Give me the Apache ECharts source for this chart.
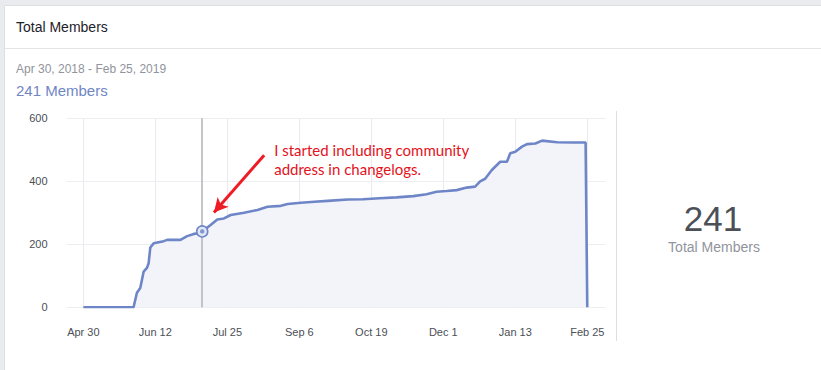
<!DOCTYPE html>
<html>
<head>
<meta charset="utf-8">
<script src="https://cdn.jsdelivr.net/npm/echarts@6/dist/echarts.min.js"></script>
<style>
html,body{margin:0;padding:0;background:#e9ebee;}
#chart{width:821px;height:370px;}
</style>
</head>
<body>
<div id="chart"></div>
<script>
// ---- data ----
const dates = [
  '2018-04-30','2018-05-30','2018-06-01','2018-06-03','2018-06-05','2018-06-07','2018-06-08',
  '2018-06-09','2018-06-11','2018-06-17','2018-06-19','2018-06-27','2018-07-01','2018-07-05',
  '2018-07-09','2018-07-10','2018-07-15','2018-07-19','2018-07-23','2018-07-27','2018-08-04',
  '2018-08-12','2018-08-18','2018-08-26','2018-08-30','2018-09-07','2018-09-15','2018-09-23',
  '2018-10-05','2018-10-14','2018-10-24','2018-11-03','2018-11-13','2018-11-21','2018-11-27',
  '2018-12-03','2018-12-09','2018-12-15','2018-12-20','2018-12-23','2018-12-26','2018-12-30',
  '2019-01-04','2019-01-08','2019-01-10','2019-01-13','2019-01-17','2019-01-20','2019-01-25',
  '2019-01-29','2019-02-07','2019-02-17','2019-02-24','2019-02-25'
];
const members = [
  0,0,46,61,113,125,140,
  190,203,210,214,214,226,233,
  236,241,261,279,282,293,300,
  309,319,322,328,332,335,338,
  342,343,346,349,353,359,367,
  369,372,380,383,400,408,436,
  462,462,489,494,510,518,520,
  529,524,523,523,0
];
const tickDates = ['2018-04-30','2018-06-12','2018-07-25','2018-09-06','2018-10-19','2018-12-01','2019-01-13','2019-02-25'];
const tickLabels = ['Apr 30','Jun 12','Jul 25','Sep 6','Oct 19','Dec 1','Jan 13','Feb 25'];
const axisRange = ['2018-04-20','2019-03-08'];
const yRange = [0, 600, 200];
const highlightDate = '2018-07-10';
const arrowFrom = ['2018-08-16', 483];
const arrowTo = ['2018-07-17', 301];
const noteAt = ['2018-08-22', 470];
const noteText = 'I started including community\naddress in changelogs.';
const headerTitle = 'Total Members';
const rangeText = 'Apr 30, 2018 - Feb 25, 2019';

// ---- build ----
// dates -> day number since the first date (value axis)
const base = Date.UTC(2018, 3, 30);
const D = s => {
  const [y, m, d] = s.split('-').map(Number);
  return Math.round((Date.UTC(y, m - 1, d) - base) / 86400000);
};
const tickValues = tickDates.map(D);
const seriesData = dates.map((d, i) => [D(d), members[i]]);
const hiIdx = dates.indexOf(highlightDate);
const hiValue = members[hiIdx];
const BLUE = '#6e86c7';
const FONT = '"Liberation Sans", Arial, sans-serif';

const chart = echarts.init(document.getElementById('chart'), null, {renderer: 'svg'});
chart.setOption({
  backgroundColor: '#e9ebee',
  animation: false,
  graphic: [
    {type: 'rect', z: -10, shape: {x: 4.5, y: 5.5, width: 830, height: 380}, style: {fill: '#fff', stroke: '#dddfe2', lineWidth: 1}},
    {type: 'line', z: -9, shape: {x1: 5, y1: 48.5, x2: 821, y2: 48.5}, style: {stroke: '#e5e5e5', lineWidth: 1}},
    {type: 'line', z: -9, shape: {x1: 616.5, y1: 111, x2: 616.5, y2: 341}, style: {stroke: '#dddfe2', lineWidth: 1}},
    {type: 'text', x: 16, y: 27, style: {text: headerTitle, font: '14px ' + FONT, fill: '#1d2129', verticalAlign: 'middle'}},
    {type: 'text', x: 16, y: 69, style: {text: rangeText, font: '12px ' + FONT, fill: '#90949c', verticalAlign: 'middle'}},
    {type: 'text', x: 16, y: 90, style: {text: hiValue + ' Members', font: '15px ' + FONT, fill: '#7086c4', verticalAlign: 'middle'}},
    {type: 'text', x: 713, y: 218, style: {text: String(hiValue), font: '35px ' + FONT, fill: '#4b4f56', align: 'center', verticalAlign: 'middle'}},
    {type: 'text', x: 714, y: 246.5, style: {text: headerTitle, font: '14px ' + FONT, fill: '#90949c', align: 'center', verticalAlign: 'middle'}}
  ],
  grid: {left: 66.6, right: 215.3, top: 118.3, bottom: 62.7},
  xAxis: {
    type: 'value',
    min: D(axisRange[0]),
    max: D(axisRange[1]),
    axisLine: {show: false},
    axisTick: {show: false, customValues: tickValues},
    axisLabel: {
      customValues: tickValues,
      margin: 19,
      fontSize: 11,
      fontFamily: FONT,
      color: '#4b4f56',
      formatter: v => {
        const i = tickValues.indexOf(v);
        return i >= 0 ? tickLabels[i] : '';
      }
    },
    splitLine: {show: true, lineStyle: {color: '#e9eaed', width: 1}}
  },
  yAxis: {
    type: 'value',
    min: yRange[0], max: yRange[1], interval: yRange[2],
    axisLine: {show: false},
    axisTick: {show: false},
    axisLabel: {margin: 19, fontSize: 11, fontFamily: FONT, color: '#4b4f56'},
    splitLine: {lineStyle: {color: '#eceef1', width: 1}}
  },
  series: [
    {
      type: 'line',
      data: seriesData,
      showSymbol: false,
      symbol: 'none',
      lineStyle: {color: BLUE, width: 2.6},
      areaStyle: {color: '#f3f4fa', opacity: 1},
      markLine: {
        silent: true,
        symbol: 'none',
        label: {show: false},
        lineStyle: {color: '#b0b3b8', width: 1.5, type: 'solid'},
        data: [{xAxis: D(highlightDate)}]
      },
      z: 2
    },
    {
      type: 'scatter',
      data: [[D(highlightDate), hiValue]],
      symbol: 'circle',
      symbolSize: 11,
      itemStyle: {color: '#e3e8f6', borderColor: BLUE, borderWidth: 1.6, opacity: 1},
      z: 5
    },
    {
      type: 'scatter',
      data: [[D(highlightDate), hiValue]],
      symbol: 'circle',
      symbolSize: 4.5,
      itemStyle: {color: '#8397d2', opacity: 1},
      z: 6
    },
    {
      type: 'line',
      data: [],
      markLine: {
        silent: true,
        symbol: ['none', 'arrow'],
        symbolSize: [11, 14],
        label: {show: false},
        lineStyle: {color: '#ee1c24', width: 3, type: 'solid'},
        data: [[{coord: [D(arrowFrom[0]), arrowFrom[1]]}, {coord: [D(arrowTo[0]), arrowTo[1]]}]]
      },
      markPoint: {
        silent: true,
        symbol: 'circle',
        symbolSize: 0,
        label: {
          show: true,
          position: 'right',
          distance: 0,
          formatter: noteText,
          color: '#e3121b',
          fontSize: 15,
          lineHeight: 19,
          fontFamily: 'Lato, "Open Sans", sans-serif',
          align: 'left'
        },
        data: [{coord: [D(noteAt[0]), noteAt[1]]}]
      },
      z: 8
    }
  ]
});
</script>
</body>
</html>
